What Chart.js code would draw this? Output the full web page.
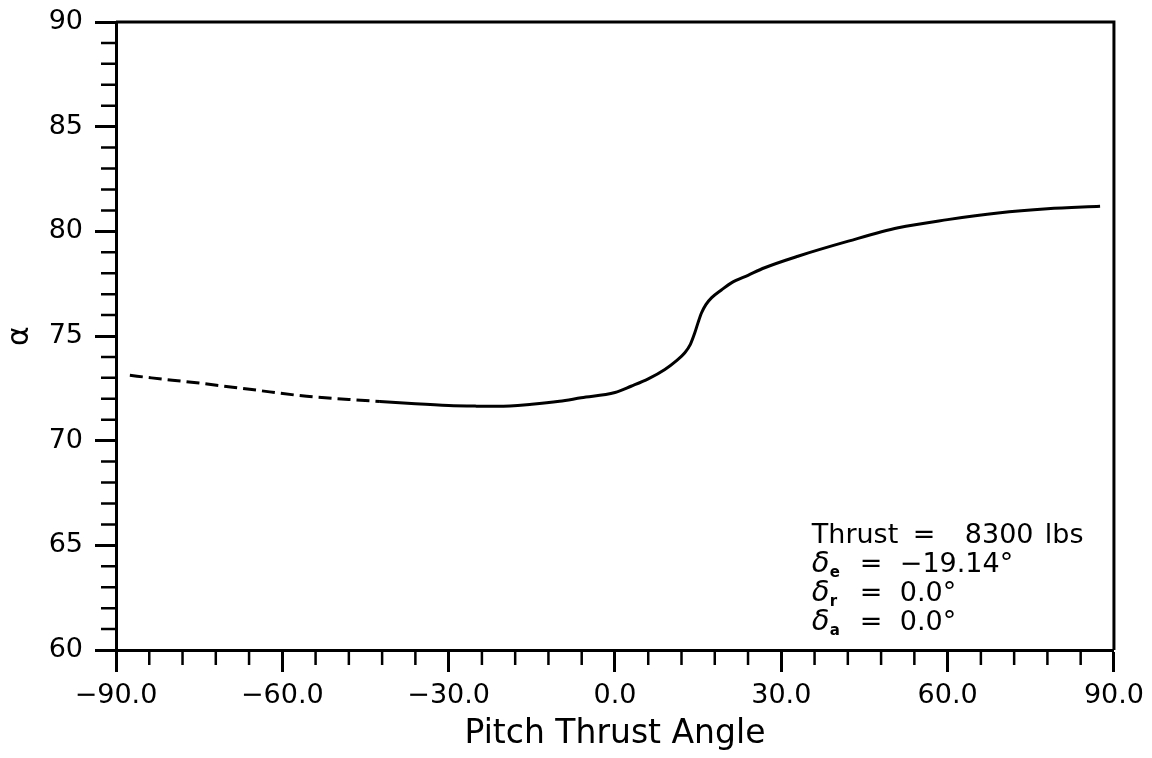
<!DOCTYPE html>
<html>
<head>
<meta charset="utf-8">
<script src="https://cdn.jsdelivr.net/npm/chart.js@4"></script>
<style>
  body { margin: 0; background: #fff; }
  canvas { display: block; }
</style>
</head>
<body>
<canvas id="myChart" width="1152" height="758"></canvas>
<script>
// data
const dashX = [-87.5, -83.6, -75, -65.5, -55.6, -48, -42.4];
const dashY = [73.12, 73.0, 72.75, 72.44, 72.12, 71.97, 71.87];

const solidX = [-42.4, -36, -30, -25, -21.1, -15, -10, -6.1, 0, 2.9, 6.0, 9.0, 11.0,
  12.6, 13.6, 14.4, 15.0, 15.6, 16.4, 17.4, 19.2, 21.0, 24.0, 27.0, 33.0, 42.1,
  51.1, 60.0, 69.1, 78.0, 87.5];
const solidY = [71.87, 71.76, 71.68, 71.65, 71.64, 71.74, 71.88, 72.05, 72.3, 72.6,
  72.95, 73.4, 73.8, 74.2, 74.6, 75.15, 75.65, 76.1, 76.5, 76.82, 77.2, 77.54,
  77.9, 78.26, 78.81, 79.53, 80.17, 80.56, 80.88, 81.08, 81.2];

const xTicks = [-90, -60, -30, 0, 30, 60, 90];
const yTicks = [60, 65, 70, 75, 80, 85, 90];

const notes = [
  { sym: null, sub: null, parts: [['Thrust', 0], ['=', 101], ['8300', 153], ['lbs', 233]] },
  { sym: 'δ', sub: 'e', parts: [['=', 48], ['−19.14°', 88]] },
  { sym: 'δ', sub: 'r', parts: [['=', 48], ['0.0°', 88]] },
  { sym: 'δ', sub: 'a', parts: [['=', 48], ['0.0°', 88]] }
];

const FONT = 'DejaVu Sans';

const pts = (xs, ys) => xs.map((x, i) => ({ x: x, y: ys[i] }));

// frame, minor ticks and the note block
const extras = {
  id: 'extras',
  afterDraw(chart) {
    const ctx = chart.ctx, a = chart.chartArea;
    const xs = chart.scales.x, ys = chart.scales.y;
    ctx.save();
    ctx.strokeStyle = '#000';
    ctx.lineWidth = 3;
    ctx.beginPath();
    ctx.moveTo(a.left, a.top);
    ctx.lineTo(a.right, a.top);
    ctx.lineTo(a.right, a.bottom);
    ctx.stroke();

    ctx.lineWidth = 2.5;
    ctx.beginPath();
    for (let v = -84; v < 90; v += 6) {
      if (v % 30 === 0) continue;
      const px = xs.getPixelForValue(v);
      ctx.moveTo(px, a.bottom);
      ctx.lineTo(px, a.bottom + 15);
    }
    for (let v = 61; v < 90; v++) {
      if (v % 5 === 0) continue;
      const py = ys.getPixelForValue(v);
      ctx.moveTo(a.left - 15, py);
      ctx.lineTo(a.left, py);
    }
    ctx.stroke();

    ctx.fillStyle = '#000';
    ctx.textBaseline = 'alphabetic';
    ctx.textAlign = 'left';
    const x0 = xs.getPixelForValue(35.5);
    const y0 = ys.getPixelForValue(65.13);
    notes.forEach((n, i) => {
      const by = y0 + i * 29;
      if (n.sym) {
        ctx.font = 'italic 29px "' + FONT + '"';
        ctx.fillText(n.sym, x0, by);
        ctx.font = 'bold 15px "' + FONT + '"';
        ctx.fillText(n.sub, x0 + 18, by + 5);
      }
      ctx.font = '27px "' + FONT + '"';
      n.parts.forEach(p => ctx.fillText(p[0], x0 + p[1], by));
    });
    ctx.restore();
  }
};

const config = {
  type: 'line',
  data: {
    datasets: [{
      label: 'dashed',
      data: pts(dashX, dashY),
      borderColor: '#000',
      borderWidth: 3,
      borderDash: [13, 6],
      pointRadius: 0,
      cubicInterpolationMode: 'monotone',
      fill: false
    }, {
      label: 'solid',
      data: pts(solidX, solidY),
      borderColor: '#000',
      borderWidth: 3,
      pointRadius: 0,
      cubicInterpolationMode: 'monotone',
      fill: false
    }]
  },
  options: {
    responsive: false,
    animation: false,
    layout: { padding: { top: 22, right: 5, bottom: 0, left: 0 } },
    plugins: { legend: { display: false }, tooltip: { enabled: false } },
    scales: {
      x: {
        type: 'linear',
        min: -90,
        max: 90,
        afterBuildTicks: s => { s.ticks = xTicks.map(v => ({ value: v })); },
        afterFit: s => { s.height = 108; },
        ticks: {
          color: '#000',
          font: { family: FONT, size: 27 },
          padding: 8,
          maxRotation: 0,
          autoSkip: false,
          callback: v => (v < 0 ? '−' : '') + Math.abs(v).toFixed(1)
        },
        grid: { drawOnChartArea: false, drawTicks: true, tickLength: 22, tickWidth: 3, tickColor: '#000' },
        border: { display: true, color: '#000', width: 3 },
        title: {
          display: true,
          text: 'Pitch Thrust Angle',
          color: '#000',
          font: { family: FONT, size: 33 },
          padding: { top: 0, bottom: 4 }
        }
      },
      y: {
        min: 60,
        max: 90,
        afterBuildTicks: s => { s.ticks = yTicks.map(v => ({ value: v })); },
        afterFit: s => { s.width = 116; s.paddingTop = 0; },
        ticks: {
          color: '#000',
          font: { family: FONT, size: 27 },
          padding: 12
        },
        grid: { drawOnChartArea: false, drawTicks: true, tickLength: 21, tickWidth: 3, tickColor: '#000' },
        border: { display: true, color: '#000', width: 3 },
        title: {
          display: true,
          text: 'α',
          color: '#000',
          font: { family: FONT, size: 30 },
          padding: { top: 2, bottom: 0 }
        }
      }
    }
  },
  plugins: [extras]
};

const myChart = new Chart(document.getElementById('myChart'), config);
</script>
</body>
</html>
